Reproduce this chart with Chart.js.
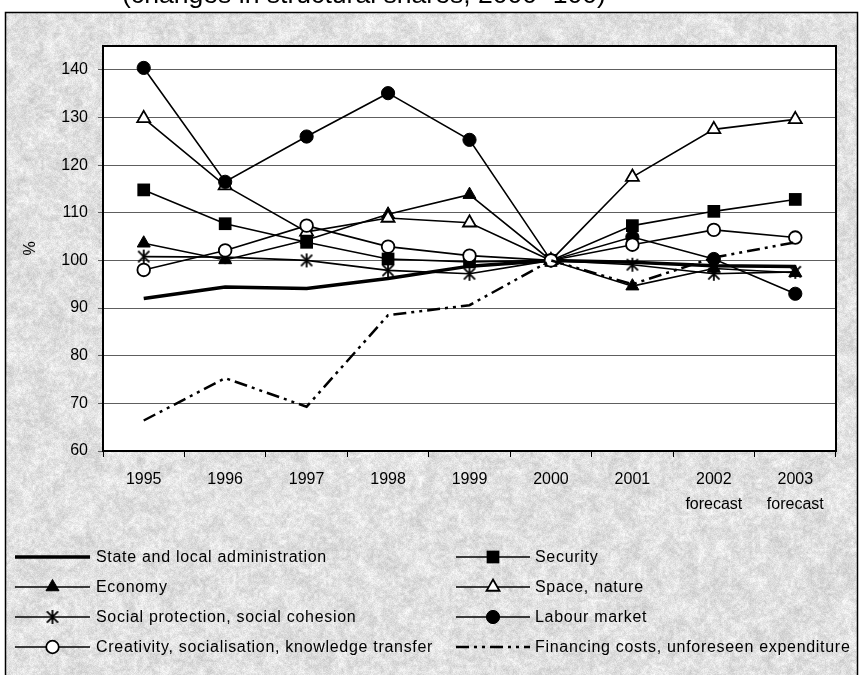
<!DOCTYPE html>
<html>
<head>
<meta charset="utf-8">
<script src="https://cdn.jsdelivr.net/npm/chart.js@4.4.1/dist/chart.umd.min.js"></script>
<style>
  html, body { margin: 0; padding: 0; background: #fff; }
  #wrap { width: 859px; height: 675px; position: relative; }
</style>
</head>
<body>
<div id="wrap"><canvas id="c" width="859" height="675"></canvas></div>
<script>
// Categories (years; the last two are forecasts)
const years = ['1995', '1996', '1997', '1998', '1999', '2000', '2001', ['2002', 'forecast'], ['2003', 'forecast']];

// Structural shares, 2000 = 100
const stateAdmin       = [92.0, 94.4, 94.1, 96.2, 98.8, 100, 99.6, 98.9, 98.7];
const security         = [114.8, 107.7, 103.8, 100.3, 99.7, 100, 107.3, 110.3, 112.8];
const economy          = [103.6, 100.1, 104.3, 109.7, 113.8, 100, 94.6, 98.3, 97.4];
const spaceNature      = [129.8, 115.7, 106.0, 108.9, 107.9, 100, 117.5, 127.5, 129.6];
const socialProtection = [100.8, 100.7, 100.0, 97.9, 97.2, 100, 99.1, 97.2, 97.6];
const labourMarket     = [140.4, 116.5, 126.0, 135.1, 125.3, 100, 104.9, 100.3, 93.0];
const creativity       = [98.0, 102.1, 107.3, 102.9, 101.0, 100, 103.3, 106.4, 104.8];
const financing        = [66.4, 75.3, 69.3, 88.5, 90.6, 100, 95.0, 100.6, 103.8];

// Value-axis ticks
const yTicks = [60, 70, 80, 90, 100, 110, 120, 130, 140];

const FONT = '"Liberation Sans", Arial, sans-serif';

// Asterisk marker (vertical bar plus a diagonal cross)
function makeAsterisk(size) {
  const c = document.createElement('canvas');
  c.width = c.height = size;
  const g = c.getContext('2d');
  g.strokeStyle = '#000';
  g.lineWidth = 1.8;
  const m = size / 2, r = size / 2 - 1, d = r * 0.8;
  g.beginPath();
  g.moveTo(m, m - r); g.lineTo(m, m + r);
  g.moveTo(m - d, m - d); g.lineTo(m + d, m + d);
  g.moveTo(m + d, m - d); g.lineTo(m - d, m + d);
  g.stroke();
  return c;
}
const asterisk = makeAsterisk(16);

// Mottled grey "granite" texture for the chart frame
function makeTexture(w, h) {
  const c = document.createElement('canvas');
  c.width = w; c.height = h;
  const g = c.getContext('2d');
  const img = g.createImageData(w, h);
  function hash(x, y, s) {
    let t = Math.imul(x, 374761393) + Math.imul(y, 668265263) + Math.imul(s, 2246822519);
    t = Math.imul(t ^ (t >>> 13), 1274126177);
    t ^= t >>> 16;
    return (t >>> 0) / 4294967296;
  }
  function smooth(x, y, cell, s) {
    const gx = x / cell, gy = y / cell;
    const x0 = Math.floor(gx), y0 = Math.floor(gy);
    const fx = gx - x0, fy = gy - y0;
    const a = hash(x0, y0, s), b = hash(x0 + 1, y0, s);
    const c2 = hash(x0, y0 + 1, s), d = hash(x0 + 1, y0 + 1, s);
    return (a * (1 - fx) + b * fx) * (1 - fy) + (c2 * (1 - fx) + d * fx) * fy;
  }
  for (let y = 0; y < h; y++) {
    for (let x = 0; x < w; x++) {
      const coarse = smooth(x, y, 10, 1) - 0.5;
      const mid = smooth(x, y, 3, 2) - 0.5;
      const fine = hash(x, y, 3) - 0.5;
      let v = 225 + coarse * 20 + mid * 26 + fine * 22;
      v = Math.max(160, Math.min(252, v));
      const i = (y * w + x) * 4;
      img.data[i] = img.data[i + 1] = img.data[i + 2] = v;
      img.data[i + 3] = 255;
    }
  }
  g.putImageData(img, 0, 0);
  return c;
}
const texture = makeTexture(859, 675);

const frame = { left: 5, top: 12, right: 857, bottom: 680 };

const framePlugin = {
  id: 'frame',
  beforeDraw(chart) {
    const ctx = chart.ctx;
    const a = chart.chartArea;
    ctx.save();
    ctx.fillStyle = '#fff';
    ctx.fillRect(0, 0, chart.width, chart.height);
    // title line, running off the top of the page
    ctx.fillStyle = '#000';
    const title = '(changes in structural shares, 2000=100)';
    ctx.font = '24px ' + FONT;
    const tw = ctx.measureText(title).width;
    ctx.font = (24 * 484 / tw).toFixed(2) + 'px ' + FONT;
    ctx.textAlign = 'left';
    ctx.textBaseline = 'alphabetic';
    ctx.fillText(title, 122, 3);
    // textured frame
    ctx.drawImage(texture, frame.left, frame.top, frame.right - frame.left, frame.bottom - frame.top,
                  frame.left, frame.top, frame.right - frame.left, frame.bottom - frame.top);
    ctx.strokeStyle = '#000';
    ctx.lineWidth = 1.5;
    ctx.strokeRect(frame.left + 0.5, frame.top + 0.5, frame.right - frame.left, frame.bottom - frame.top);
    // white plot area
    ctx.fillStyle = '#fff';
    ctx.fillRect(a.left, a.top, a.right - a.left, a.bottom - a.top);
    ctx.restore();
  },
  afterDraw(chart) {
    const ctx = chart.ctx;
    const a = chart.chartArea;
    ctx.save();
    ctx.strokeStyle = '#000';
    ctx.lineWidth = 2;
    ctx.strokeRect(a.left, a.top, a.right - a.left, a.bottom - a.top);
    ctx.restore();
  }
};

// Two-column legend below the plot, drawn from the dataset styles
const legendPlugin = {
  id: 'twoColLegend',
  afterDraw(chart) {
    const ctx = chart.ctx;
    const cols = [{ x0: 15, x1: 90, tx: 96 }, { x0: 456, x1: 530, tx: 535 }];
    const rows = [557, 587, 617, 647];
    ctx.save();
    chart.data.datasets.forEach((ds, i) => {
      const col = cols[i % 2];
      const y = rows[Math.floor(i / 2)];
      ctx.strokeStyle = ds.borderColor;
      ctx.lineWidth = ds.borderWidth;
      ctx.setLineDash(ds.borderDash || []);
      ctx.beginPath();
      ctx.moveTo(col.x0, y);
      ctx.lineTo(col.x1, y);
      ctx.stroke();
      ctx.setLineDash([]);
      if (ds.pointRadius > 0) {
        ctx.fillStyle = ds.pointBackgroundColor;
        ctx.strokeStyle = ds.pointBorderColor;
        ctx.lineWidth = ds.pointBorderWidth;
        Chart.helpers.drawPoint(ctx, {
          pointStyle: ds.pointStyle, radius: ds.pointRadius, rotation: 0,
          borderWidth: ds.pointBorderWidth
        }, (col.x0 + col.x1) / 2, y);
      }
      ctx.fillStyle = '#000';
      ctx.font = '16px ' + FONT;
      ctx.letterSpacing = '0.7px';
      ctx.textAlign = 'left';
      ctx.textBaseline = 'middle';
      ctx.fillText(ds.label, col.tx, y + 1);
    });
    ctx.restore();
  }
};

function series(label, data, style) {
  return Object.assign({
    label, data,
    borderColor: '#000',
    borderWidth: 1.6,
    pointBorderColor: '#000',
    pointBackgroundColor: '#000',
    pointBorderWidth: 1.6,
    pointHoverRadius: 0,
    tension: 0,
    fill: false
  }, style);
}

const datasets = [
  series('State and local administration', stateAdmin, { borderWidth: 3.5, pointRadius: 0, pointStyle: false }),
  series('Security', security, { pointStyle: 'rect', pointRadius: 9, pointBorderWidth: 0 }),
  series('Economy', economy, { pointStyle: 'triangle', pointRadius: 7.5, pointBorderWidth: 1 }),
  series('Space, nature', spaceNature, { pointStyle: 'triangle', pointRadius: 7.5, pointBackgroundColor: '#fff', pointBorderWidth: 1.8 }),
  series('Social protection, social cohesion', socialProtection, { pointStyle: asterisk, pointRadius: 8 }),
  series('Labour market', labourMarket, { pointStyle: 'circle', pointRadius: 6.6, pointBorderWidth: 1 }),
  series('Creativity, socialisation, knowledge transfer', creativity, { pointStyle: 'circle', pointRadius: 6.3, pointBackgroundColor: '#fff', pointBorderWidth: 1.8 }),
  series('Financing costs, unforeseen expenditure', financing, { borderWidth: 2.5, borderDash: [13, 5, 3, 5, 3, 5], pointRadius: 0, pointStyle: false })
];
// later series are painted on top
datasets.forEach((d, i) => { d.order = datasets.length - 1 - i; });

new Chart(document.getElementById('c'), {
  type: 'line',
  data: { labels: years, datasets },
  options: {
    responsive: false,
    animation: false,
    events: [],
    layout: { padding: { left: 0, top: 46, right: 23, bottom: 0 } },
    plugins: { legend: { display: false }, tooltip: { enabled: false }, title: { display: false } },
    scales: {
      x: {
        type: 'category',
        offset: true,
        grid: { offset: true, drawOnChartArea: false, drawTicks: true, tickLength: 6, color: '#000', lineWidth: 1 },
        border: { display: true, color: '#000', width: 2 },
        ticks: { color: '#000', font: { family: FONT, size: 16, lineHeight: 1.55 }, padding: 10, maxRotation: 0, autoSkip: false },
        afterFit(scale) { scale.height = 224; }
      },
      y: {
        min: 60, max: 145,
        afterBuildTicks(scale) { scale.ticks = yTicks.map(v => ({ value: v })); },
        grid: { color: '#5e5e5e', lineWidth: 1, tickLength: 5, drawTicks: true },
        border: { display: true, color: '#000', width: 2 },
        ticks: { color: '#000', font: { family: FONT, size: 16 }, padding: 10 },
        title: { display: true, text: '%', color: '#000', font: { family: FONT, size: 16 }, padding: { top: 21, bottom: 0 } },
        afterFit(scale) { scale.width = 103; }
      }
    }
  },
  plugins: [framePlugin, legendPlugin]
});
</script>
</body>
</html>
